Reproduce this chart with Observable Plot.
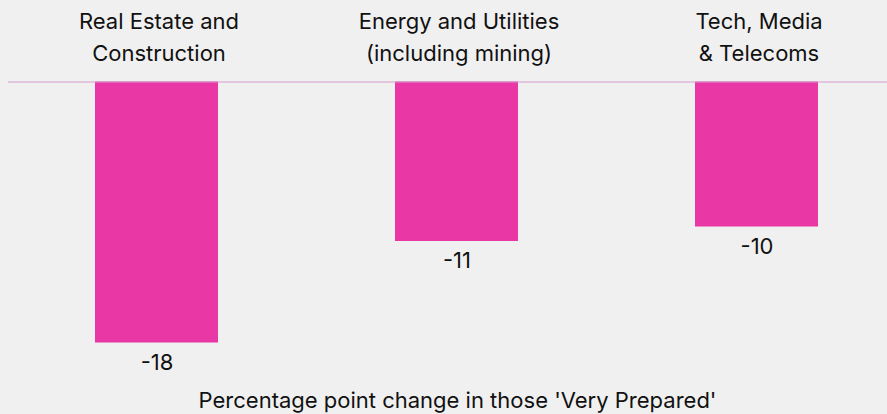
<!DOCTYPE html>
<html>
<head>
<meta charset="utf-8">
<script src="https://cdn.jsdelivr.net/npm/d3@7"></script>
<script src="https://cdn.jsdelivr.net/npm/@observablehq/plot@0.6"></script>
<style>
  html, body { margin: 0; padding: 0; background: #f0f0f0; }
  #chart svg { display: block; }
</style>
</head>
<body>
<div id="chart"></div>
<script>
const categories = ["Real Estate and\nConstruction", "Energy and Utilities\n(including mining)", "Tech, Media\n& Telecoms"];
const values = [-18, -11, -10];
const caption = "Percentage point change in those 'Very Prepared'";

const data = categories.map((c, i) => ({category: c, value: values[i]}));
const font = "Inter, 'Liberation Sans', Arial, sans-serif";

const chart = Plot.plot({
  width: 887,
  height: 414,
  marginLeft: 8,
  marginRight: 0,
  marginTop: 82,
  marginBottom: 71,
  style: {background: "#f0f0f0", fontFamily: font, color: "#111"},
  x: {domain: categories, range: [8, 904], paddingInner: 0.59, paddingOuter: 0.286, axis: null},
  y: {domain: [-18, 0], range: [342.5, 81.5], axis: null},
  marks: [
    Plot.barY(data, {x: "category", y: "value", fill: "#ea37a6"}),
    Plot.ruleY([0], {stroke: "#d39ccb", strokeWidth: 1}),
    Plot.text(data, {x: "category", text: "category", frameAnchor: "top", lineAnchor: "top", dy: -77, dx: 2, fontSize: 22, lineHeight: 1.48, fill: "#111"}),
    Plot.text(data, {x: "category", y: "value", text: d => String(d.value), lineAnchor: "middle", dy: 19.5, fontSize: 22, fill: "#111"}),
    Plot.text([caption], {text: d => d, frameAnchor: "bottom", lineAnchor: "middle", dx: 9.5, dy: 57, fontSize: 22, fill: "#111"})
  ]
});
document.getElementById("chart").appendChild(chart);
</script>
</body>
</html>
